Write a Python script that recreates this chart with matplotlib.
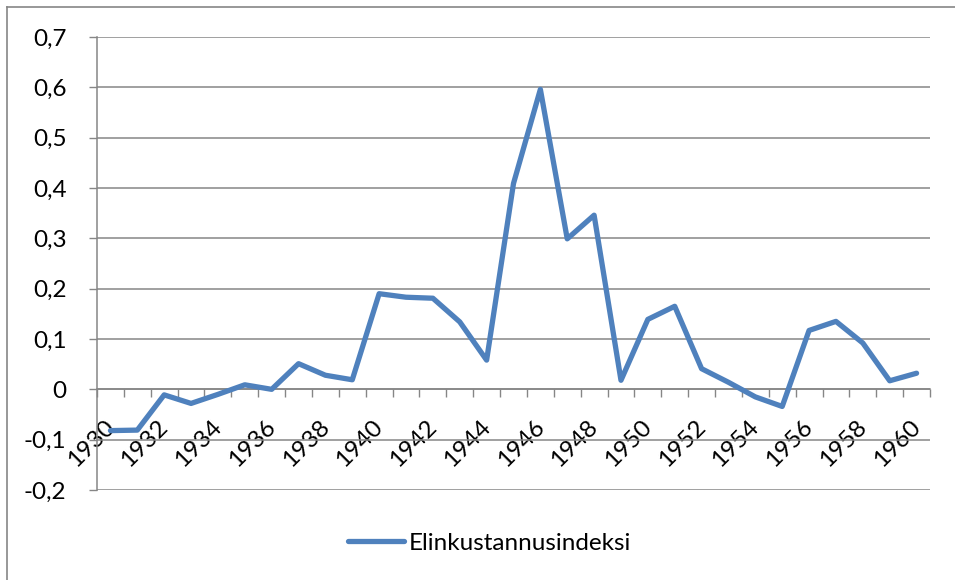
import numpy as np
import matplotlib
matplotlib.use('Agg')
import matplotlib.pyplot as plt
import matplotlib.transforms as mtransforms
from matplotlib.lines import Line2D

# Elinkustannusindeksi, annual change 1930-1960
years = list(range(1930, 1961))
values = [-0.082, -0.081, -0.011, -0.028, -0.010, 0.009, 0.000, 0.051, 0.028, 0.019,
          0.190, 0.183, 0.181, 0.134, 0.058, 0.409, 0.596, 0.299, 0.346, 0.018,
          0.139, 0.165, 0.041, 0.014, -0.015, -0.034, 0.117, 0.135, 0.092, 0.017,
          0.032]
series_name = 'Elinkustannusindeksi'
y_ticks = [-0.2, -0.1, 0, 0.1, 0.2, 0.3, 0.4, 0.5, 0.6, 0.7]

plt.rcParams['font.family'] = ['Lato', 'DejaVu Sans']
grey = '#868686'
blue = '#4F81BD'
fs = 17.5

W, H = 955, 580
fig = plt.figure(figsize=(W / 100, H / 100), dpi=100)
ax = fig.add_axes([97 / W, 1 - 490 / H, (930 - 97) / W, (490 - 37) / H])

x = np.arange(len(years))
line, = ax.plot(x, values, color=blue, linewidth=3.8, solid_joinstyle='round',
                solid_capstyle='round', label=series_name, zorder=3)

ax.set_xlim(-0.5, len(years) - 0.5)
ax.set_ylim(-0.2, 0.7)

# y axis
ax.set_yticks(y_ticks)
ax.set_yticklabels([('%g' % v).replace('.', ',') for v in y_ticks])
ax.yaxis.grid(True, color=grey, linewidth=1.1)
ax.tick_params(axis='y', length=6, width=1, color=grey, pad=16, labelsize=fs)

# x axis crossing at zero, ticks between categories
ax.spines['bottom'].set_position(('data', 0))
for s in ['top', 'right']:
    ax.spines[s].set_visible(False)
for s in ['left', 'bottom']:
    ax.spines[s].set_color(grey)
    ax.spines[s].set_linewidth(1.1)
ax.set_xticks(x[::2])
ax.set_xticklabels([str(y) for y in years[::2]], rotation=45, ha='right',
                   va='top', rotation_mode='anchor')
ax.set_xticks(np.arange(-0.5, len(years)), minor=True)
ax.tick_params(axis='x', which='major', length=0, pad=19, labelsize=fs)
ax.tick_params(axis='x', which='minor', length=6, width=1, color=grey)
ax.set_axisbelow(True)

# nudge the slanted year labels a little to the left
shift = mtransforms.ScaledTranslation(-7 / 100, 0, fig.dpi_scale_trans)
for lab in ax.get_xticklabels():
    lab.set_transform(lab.get_transform() + shift)

# chart border (left and top visible)
fig.add_artist(Line2D([7 / W, 7 / W], [0, 1 - 7 / H], transform=fig.transFigure,
                      color=grey, linewidth=1.2))
fig.add_artist(Line2D([7 / W, 1], [1 - 7 / H, 1 - 7 / H], transform=fig.transFigure,
                      color=grey, linewidth=1.2))

fig.legend(handles=[line], loc='center', bbox_to_anchor=(490 / W, 1 - 543 / H),
           frameon=False, fontsize=fs, handlelength=2.3, handletextpad=0.2)

fig.savefig('out.png', dpi=100)
